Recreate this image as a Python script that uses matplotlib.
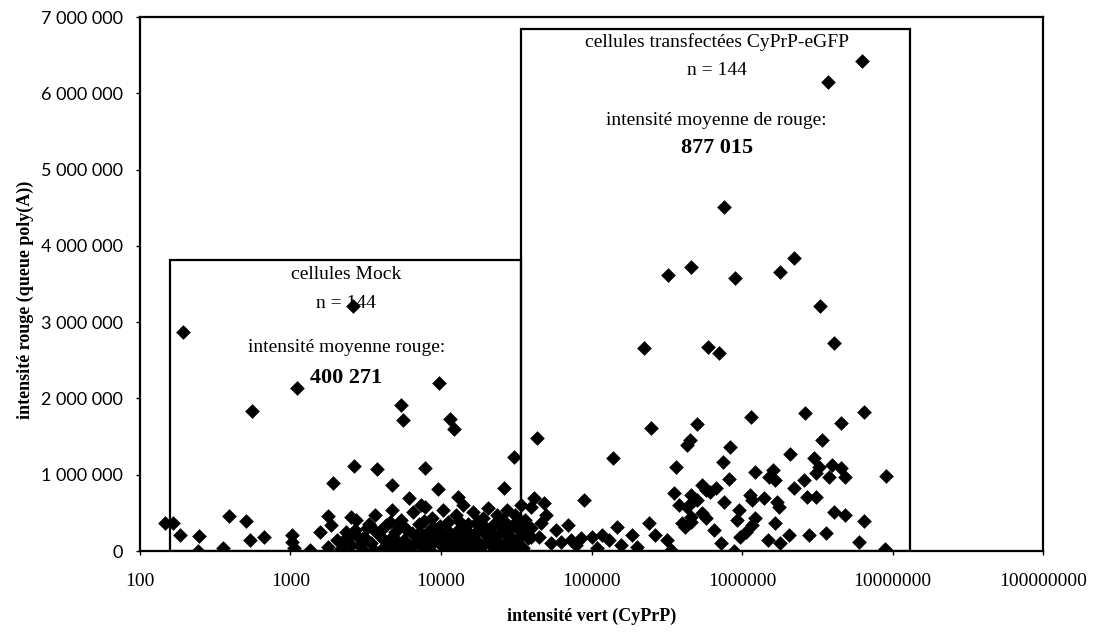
import matplotlib
matplotlib.use('Agg')
import matplotlib.pyplot as plt
from matplotlib.patches import Rectangle

# cellules Mock (intensite vert, intensite rouge)
mock_x = [147, 166, 185, 194, 247, 244, 357, 392, 509, 541, 558, 671, 1031, 1031, 1050,
          1113, 1358, 1560, 1770, 1770, 1905, 2510, 2590, 2630, 3740, 4710, 5410, 5570,
          6120, 7360, 7820, 9550, 9700, 11480, 12200, 12980, 26300, 30700,
          1848, 2026, 2154, 2326, 2512, 2712, 2840, 3020, 3212, 3415, 3631, 3861, 4105,
          4300, 4500, 4713, 4935, 5168, 5412, 5667, 5934, 6214, 6507, 6813, 7135, 7471,
          7823, 8068, 8449, 8710, 9120, 9550, 10000, 10310, 10800, 11130, 11660, 12020,
          12590, 12980, 13600, 14020, 14680, 15140, 15850, 16340, 17110, 17650, 18480,
          19050, 19950, 20570, 21540, 22230, 22910, 23620, 24380, 25120, 25900, 26730,
          27540, 28400, 29290, 30200, 31120, 32140, 33110, 34140, 35240, 36310, 38020, 39810,
          2400, 2900, 3300, 3600, 4000, 4400, 4800, 5300, 5800, 6400, 7000, 7700, 8300,
          9000, 9800, 10500, 11300, 12400, 13200, 14300, 15500, 16800, 18000, 19500,
          21000, 23000, 25000, 27000, 29500, 32000,
          2200, 2700, 3100, 3500, 4200, 4600, 5000, 5600, 6600, 7300, 8000, 8800, 10200,
          11000, 12800, 14000, 16000, 17500, 20000, 22000, 24000, 26000, 28000, 31000, 35000]
mock_y = [370000, 370000, 210000, 2870000, 200000, 0, 40000, 460000, 390000, 140000,
          1830000, 180000, 210000, 120000, 40000, 2140000, 10000, 250000, 460000, 50000,
          890000, 450000, 3210000, 1110000, 1070000, 870000, 1910000, 1720000, 700000,
          600000, 1090000, 810000, 2200000, 1730000, 1600000, 710000, 830000, 1230000,
          341000, 144000, 26000, 249000, 79000, 406000, 170000, 13000, 301000, 105000,
          472000, 210000, 39000, 341000, 144000, 537000, 249000, 26000, 406000, 144000,
          275000, 52000, 511000, 197000, 354000, 79000, 577000, 236000, 13000, 432000,
          144000, 301000, 79000, 537000, 210000, 380000, 26000, 144000, 472000, 275000,
          79000, 603000, 183000, 354000, 13000, 511000, 144000, 275000, 52000, 432000,
          210000, 564000, 79000, 341000, 144000, 472000, 13000, 249000, 406000, 105000,
          537000, 183000, 39000, 341000, 472000, 144000, 275000, 603000, 39000, 406000,
          170000, 301000,
          190000, 60000, 350000, 20000, 280000, 60000, 180000, 320000, 40000, 230000,
          110000, 390000, 60000, 200000, 330000, 120000, 250000, 30000, 390000, 100000,
          220000, 60000, 330000, 110000, 260000, 40000, 360000, 220000, 90000, 390000,
          120000, 280000, 190000, 300000, 150000, 380000, 100000, 330000, 90000, 250000,
          150000, 310000, 230000, 60000, 180000, 300000, 120000, 390000, 300000, 200000,
          90000, 290000, 330000, 50000, 250000]

# cellules transfectees CyPrP-eGFP
gfp_x = [6.31e6, 3.74e6, 7.59e5, 3.21e5, 4.57e5, 8.98e5, 1.79e6, 2.22e6, 3.31e6, 4.1e6,
         2.22e5, 5.93e5, 7.03e5,
         43600, 1.4e5, 2.47e5, 5.0e5, 4.3e5, 4.5e5, 3.63e5, 88500, 3.52e5, 3.8e5, 4.8e5,
         70300, 1.47e5, 2.0e5, 2.4e5, 3.4e5, 2.63e5, 3.16e5, 4.0e5, 4.6e5, 41700, 48000,
         1.17e5, 1.3e5, 1.0e5, 85800, 73600, 63100, 54100, 45000, 39800, 34100, 29300,
         46400, 34100, 39800, 50100, 58400, 79400, 1.08e5, 1.58e5, 1.85e5,
         1.15e6, 2.63e6, 6.5e6, 4.57e6, 8.3e5, 3.41e6, 7.47e5, 2.09e6, 3.02e6, 3.27e6,
         3.98e6, 4.57e6, 4.8e6, 3.8e6, 3.1e6, 9.1e6, 1.22e6, 1.61e6, 1.66e6, 1.52e6,
         8.2e5, 2.6e6, 2.2e6, 2.7e6, 3.1e6, 6.7e5, 6.1e5, 5.0e5, 4.3e5, 7.6e5, 1.13e6,
         1.17e6, 1.4e6, 1.7e6, 1.77e6, 9.5e5, 9.2e5, 5.4e5, 5.8e5, 4.6e5, 4.2e5, 1.22e6,
         1.17e6, 1.07e6, 9.7e5, 7.2e5, 8.9e5, 1.65e6, 2.05e6, 1.48e6, 1.78e6, 2.78e6,
         3.6e6, 4.1e6, 4.8e6, 6.5e6, 6.0e6, 8.9e6,
         4.6e5, 5.4e5, 5.8e5, 6.5e5]
gfp_y = [6.43e6, 6.15e6, 4.51e6, 3.62e6, 3.72e6, 3.58e6, 3.66e6, 3.84e6, 3.21e6, 2.73e6,
         2.66e6, 2.67e6, 2.6e6,
         1.48e6, 1.22e6, 1.61e6, 1.66e6, 1.39e6, 1.45e6, 1.1e6, 0.67e6, 0.76e6, 0.6e6,
         0.67e6, 0.34e6, 0.31e6, 0.05e6, 0.37e6, 0.01e6, 0.21e6, 0.14e6, 0.37e6, 0.45e6,
         0.69e6, 0.63e6,
         0.21e6, 0.14e6, 0.18e6, 0.17e6, 0.14e6, 0.12e6, 0.1e6, 0.18e6, 0.18e6, 0.28e6,
         0.18e6, 0.37e6, 0.37e6, 0.58e6, 0.47e6, 0.28e6, 0.08e6, 0.04e6, 0.08e6, 0.21e6,
         1.76e6, 1.81e6, 1.82e6, 1.68e6, 1.36e6, 1.45e6, 1.17e6, 1.27e6, 1.22e6, 1.1e6,
         1.13e6, 1.09e6, 0.97e6, 0.97e6, 1.02e6, 0.98e6, 1.04e6, 1.06e6, 0.93e6, 0.97e6,
         0.94e6, 0.93e6, 0.83e6, 0.71e6, 0.71e6, 0.83e6, 0.77e6, 0.67e6, 0.58e6, 0.64e6,
         0.73e6, 0.67e6, 0.69e6, 0.64e6, 0.58e6, 0.54e6, 0.41e6, 0.5e6, 0.43e6, 0.38e6,
         0.31e6, 0.43e6, 0.34e6, 0.25e6, 0.18e6, 0.1e6, 0.0, 0.37e6, 0.21e6, 0.14e6, 0.1e6,
         0.21e6, 0.24e6, 0.51e6, 0.47e6, 0.39e6, 0.12e6, 0.03e6,
         0.73e6, 0.86e6, 0.8e6, 0.28e6]

# cadres des deux populations (x0, x1, hauteur)
mock_box = (158, 34100, 3.81e6)
gfp_box = (34100, 1.3e7, 6.84e6)

yticks = [0, 1e6, 2e6, 3e6, 4e6, 5e6, 6e6, 7e6]
ylabels = ['0', '1 000 000', '2 000 000', '3 000 000', '4 000 000',
           '5 000 000', '6 000 000', '7 000 000']
xticks = [1e2, 1e3, 1e4, 1e5, 1e6, 1e7, 1e8]
xlabels = ['100', '1000', '10000', '100000', '1000000', '10000000', '100000000']

serif = 'Liberation Serif'
fig = plt.figure(figsize=(10.97, 6.33), dpi=100)
ax = fig.add_axes([0.1276, 0.1295, 0.8232, 0.8435])

ax.set_xscale('log')
ax.set_xlim(1e2, 1e8)
ax.set_ylim(0, 7e6)

for x0, x1, h in (mock_box, gfp_box):
    ax.add_patch(Rectangle((x0, 0), x1 - x0, h, fill=False, edgecolor='black',
                           linewidth=1.6, zorder=2))

ax.scatter(mock_x, mock_y, marker='D', s=56, color='black', linewidths=0, zorder=4)
ax.scatter(gfp_x, gfp_y, marker='D', s=56, color='black', linewidths=0, zorder=4)

# textes dans les cadres
ax.text(2350, 3.62e6, 'cellules Mock', ha='center', va='center', fontsize=14, family=serif, zorder=3)
ax.text(2350, 3.25e6, 'n = 144', ha='center', va='center', fontsize=14, family=serif, zorder=3)
ax.text(2350, 2.67e6, 'intensité moyenne rouge:', ha='center', va='center', fontsize=14, family=serif, zorder=3)
ax.text(2350, 2.27e6, '400 271', ha='center', va='center', fontsize=16, family=serif,
        fontweight='bold', zorder=3)
ax.text(6.8e5, 6.67e6, 'cellules transfectées CyPrP-eGFP', ha='center', va='center', fontsize=14,
        family=serif, zorder=3)
ax.text(6.8e5, 6.30e6, 'n = 144', ha='center', va='center', fontsize=14, family=serif, zorder=3)
ax.text(6.8e5, 5.65e6, 'intensité moyenne de rouge:', ha='center', va='center', fontsize=14,
        family=serif, zorder=3)
ax.text(6.8e5, 5.29e6, '877 015', ha='center', va='center', fontsize=16, family=serif,
        fontweight='bold', zorder=3)

ax.set_yticks(yticks)
ax.set_yticklabels(ylabels, family='Lato', fontsize=13)
ax.set_xticks(xticks)
ax.set_xticklabels(xlabels, family=serif, fontsize=14)
ax.minorticks_off()
ax.tick_params(axis='y', length=3, width=1, pad=9)
ax.tick_params(axis='x', length=3, width=1, pad=13)

for sp in ax.spines.values():
    sp.set_linewidth(1.6)

ax.set_xlabel('intensité vert (CyPrP)', family=serif, fontsize=13, fontweight='bold')
ax.set_ylabel('intensité rouge (queue poly(A))', family=serif, fontsize=13, fontweight='bold')
ax.xaxis.set_label_coords(0.5, -0.107)
ax.yaxis.set_label_coords(-0.117, 0.47)

plt.savefig('out.png', dpi=100)
